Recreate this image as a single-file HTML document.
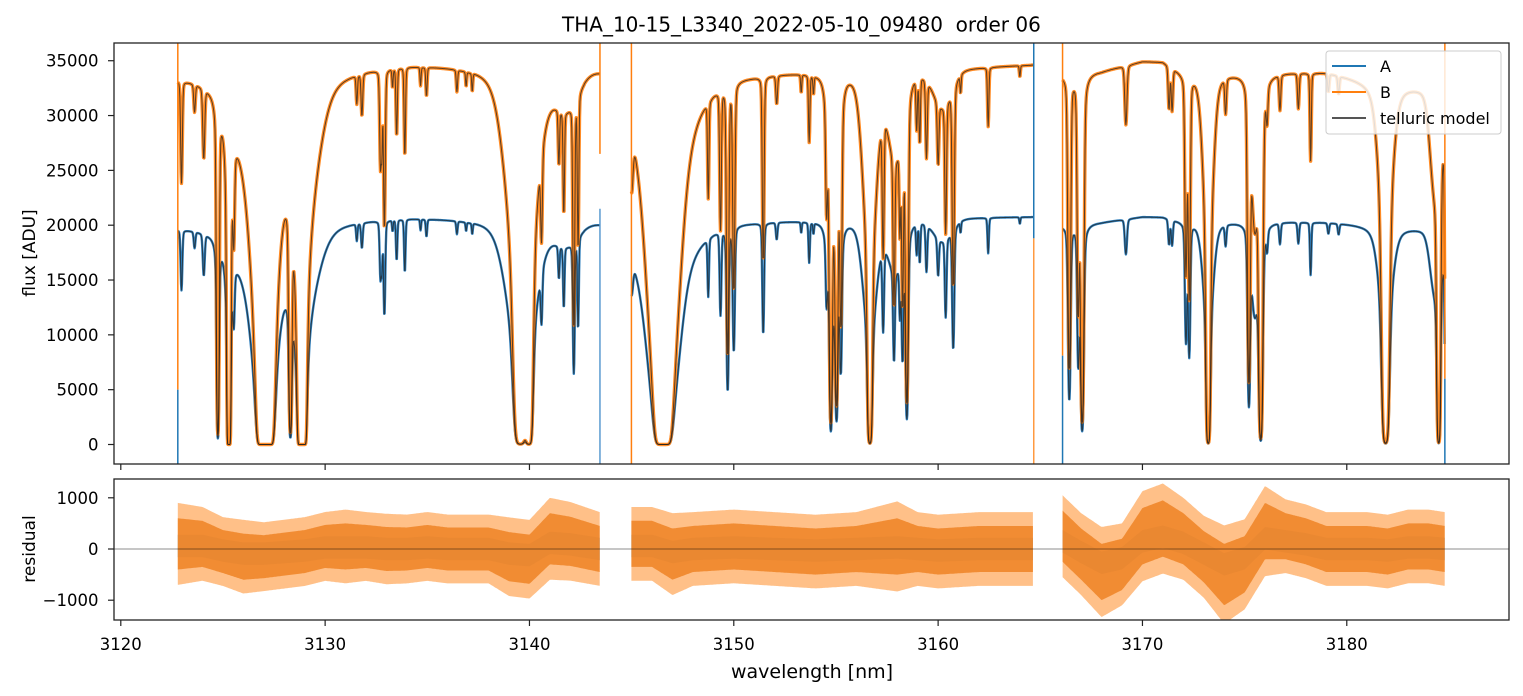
<!DOCTYPE html>
<html><head><meta charset="utf-8"><style>
html,body{margin:0;padding:0;background:#fff;}
svg{display:block;font-family:"DejaVu Sans","Liberation Sans",sans-serif;}
</style></head><body>
<svg id="chart" width="1523" height="696" viewBox="0 0 1523 696" xmlns="http://www.w3.org/2000/svg">
<defs>
<clipPath id="clipTop"><rect x="114" y="43" width="1395" height="421"/></clipPath>
<clipPath id="clipBot"><rect x="114" y="479" width="1395" height="141"/></clipPath>
</defs>
<rect width="1523" height="696" fill="#fff"/>
<text x="562" y="31.5" font-size="20" fill="#000" xml:space="preserve">THA_10-15_L3340_2022-05-10_09480  order 06</text>
<g id="topMarks" clip-path="url(#clipTop)"></g>
<g id="botMarks" clip-path="url(#clipBot)"></g>
<rect x="114" y="43" width="1395" height="421" fill="none" stroke="#222" stroke-width="1.3"/>
<rect x="114" y="479" width="1395" height="141" fill="none" stroke="#222" stroke-width="1.3"/>
<g id="axes"></g>
<text transform="translate(35,253) rotate(-90)" text-anchor="middle" font-size="17" fill="#000">flux [ADU]</text>
<text transform="translate(35,549) rotate(-90)" text-anchor="middle" font-size="17" fill="#000">residual</text>
<text x="812" y="678" text-anchor="middle" font-size="19" fill="#000">wavelength [nm]</text>
<g>
<rect x="1326" y="51" width="175" height="83" rx="3" fill="#fff" fill-opacity="0.82" stroke="#ccc" stroke-width="1"/>
<line x1="1332" y1="66" x2="1366" y2="66" stroke="#1f77b4" stroke-width="2"/>
<text x="1380" y="72" font-size="16" fill="#000">A</text>
<line x1="1332" y1="92" x2="1366" y2="92" stroke="#ff7f0e" stroke-width="2"/>
<text x="1380" y="98" font-size="16" fill="#000">B</text>
<line x1="1332" y1="118" x2="1366" y2="118" stroke="#555" stroke-width="2"/>
<text x="1380" y="124" font-size="16" fill="#000">telluric model</text>
</g>
</svg>
<script>
// ---- data ----
const segStart = [3122.79, 3144.99, 3166.09];
const segEnd   = [3143.45, 3164.68, 3184.80];
const contNm = [
  [3122.8, 3125, 3130, 3134, 3137, 3141, 3143.45],
  [3144.99, 3150, 3155, 3160, 3164.68],
  [3166.09, 3168, 3170, 3171, 3172, 3176, 3179, 3181, 3184, 3184.8]
];
const contB = [
  [33900, 34100, 34600, 35000, 34900, 35000, 35500],
  [33400, 34000, 34300, 34300, 34700],
  [33800, 34100, 35000, 35000, 34000, 34000, 34000, 33300, 32700, 32500]
];
const contA = [
  [20000, 20200, 20700, 20900, 20800, 20800, 21000],
  [19800, 20500, 20600, 20700, 20800],
  [20000, 20300, 20800, 20800, 20400, 20400, 20300, 20100, 19800, 19700]
];
const lineCenter = [3122.97,3123.61,3124.06,3124.75,3125.29,3125.53,3125.9,3127.08,3127.0,3127.8,3128.3,3128.87,3129.1,
 3131.55,3131.8,3132.71,3132.78,3132.9,3133.3,3133.5,3133.9,3134.67,3134.96,3136.45,3136.9,3137.2,
 3139.55,3139.98,3139.6,3140.59,3141.44,3141.68,3142.17,3142.38,3141.8,
 3145.0,3146.55,3146.55,3146.6,3148.75,3149.35,3149.7,3150.0,3151.44,3152.1,3153.3,3153.69,3153.9,3154.54,3154.75,3155.03,3155.24,3154.9,
 3156.66,3156.66,3157.31,3157.84,3158.13,3158.26,3158.47,3157.9,3158.95,3159.1,3159.43,3160.0,3160.37,3160.74,3160.2,3161.1,3162.45,3164.0,
 3166.42,3166.86,3167.05,3169.19,3171.3,3171.45,3172.13,3172.29,3173.22,3173.22,3174.07,3175.21,3175.79,3175.5,3176.1,3176.73,3177.63,3178.23,3179.1,3179.6,3181.9,3181.9,3184.5,3184.88,3184.3];
const lineDepth = [0.33,0.08,0.22,3.5,12,0.35,0.05,25,0.9,0,3,25,0.25,
 0.08,0.12,0.3,0.2,0.55,0.05,0.2,0.27,0.05,0.08,0.06,0.04,0.05,
 6,6,0.7,0.35,0.18,0.37,1.05,0.58,0.1,
 0.2,10,2.0,0.15,0.33,0.5,1.4,0.85,0.7,0.08,0.05,0.2,0.05,0.35,2.5,1.9,1.0,0.4,
 5,0.6,0.55,0.74,0.35,0.82,2.1,0.25,0.15,0.2,0.24,0.2,0.48,0.82,0.1,0.05,0.17,0.03,
 1.6,1.0,2.8,0.17,0.12,0.12,0.77,0.92,5,0.5,0.1,1.7,4,0.5,0.1,0.1,0.1,0.27,0.05,0.05,5,0.4,5,5,0.3];
const lineWidth = [0.03,0.03,0.035,0.06,0.07,0.03,0.5,0.26,0.6,1.2,0.04,0.14,0.8,
 0.025,0.03,0.03,0.02,0.03,0.02,0.025,0.025,0.02,0.025,0.025,0.02,0.02,
 0.25,0.15,0.8,0.03,0.025,0.025,0.03,0.025,0.8,
 0.05,0.3,0.7,1.5,0.025,0.03,0.035,0.035,0.03,0.03,0.02,0.025,0.02,0.03,0.04,0.04,0.035,0.3,
 0.1,0.4,0.03,0.03,0.025,0.03,0.04,0.5,0.025,0.025,0.03,0.03,0.03,0.035,0.6,0.02,0.025,0.02,
 0.04,0.035,0.045,0.04,0.03,0.03,0.035,0.035,0.09,0.3,0.03,0.04,0.05,0.2,0.03,0.03,0.03,0.025,0.03,0.03,0.15,0.4,0.08,0.06,0.3];
const resNm = [
  [3122.8,3124,3125,3126,3127,3128,3129,3130,3131,3132,3133,3134,3135,3136,3137,3138,3139,3140,3141,3142,3143.45],
  [3144.99,3146,3147,3148,3150,3152,3154,3156,3158,3159,3160,3162,3164.68],
  [3166.09,3167,3168,3169,3170,3171,3172,3173,3174,3175,3176,3177,3178,3179,3180,3181,3182,3183,3184,3184.8]
];
const resMean = [
  [100,100,-50,-150,-150,-100,-50,50,50,50,0,0,50,0,0,0,-150,-200,200,150,0],
  [100,100,-100,0,50,0,-50,0,50,0,-50,0,0],
  [250,-100,-450,-300,250,400,200,-150,-500,-300,350,250,150,0,0,0,-50,50,50,0]
];
const resAmp = [
  [500,450,420,450,420,420,420,420,450,420,430,420,420,420,420,420,480,480,500,480,450],
  [450,450,500,450,450,450,450,450,550,450,450,450,450],
  [500,500,550,500,550,550,500,500,600,550,550,450,450,450,450,450,450,450,450,450]
];
const xTicks = [3120,3130,3140,3150,3160,3170,3180];
const yTicksTop = [0,5000,10000,15000,20000,25000,30000,35000];
const yTicksBot = [-1000,0,1000];

// ---- axes ----
const NS="http://www.w3.org/2000/svg";
const X = nm => 120.8 + (nm-3120)*20.433;
const YT = v => 444.5 - v*0.010965;
const YB = v => 549 - v*0.0512;
function mk(tag, attrs, parent){const e=document.createElementNS(NS,tag);for(const k in attrs)e.setAttribute(k,attrs[k]);parent.appendChild(e);return e;}
function interp(xs, ys, x){ if(x<=xs[0])return ys[0]; for(let i=1;i<xs.length;i++){ if(x<=xs[i]){const t=(x-xs[i-1])/(xs[i]-xs[i-1]);return ys[i-1]+t*(ys[i]-ys[i-1]);}} return ys[ys.length-1];}
const LOR = 0.15;
function trans(l){
  let s=0;
  for(let i=0;i<lineCenter.length;i++){
    let w=lineWidth[i]||0.03; if(w<0.06) w*=1.8;
    const dp=lineDepth[i]||0;
    const d=(l-lineCenter[i])/w;
    if(d>-60&&d<60) s+=dp*((1-LOR)*Math.exp(-d*d)+LOR/(1+d*d));
  }
  return Math.exp(-s);
}

const topG=document.getElementById('topMarks'), botG=document.getElementById('botMarks'), axG=document.getElementById('axes');

// residual bands
for(let s=0;s<3;s++){
  const xs=resNm[s];
  let upO='',loO='',upI='',loI='',upA='',loA='';
  for(let l=segStart[s]; l<=segEnd[s]+1e-9; l+=0.05){
    const m=interp(xs,resMean[s],l), a=interp(xs,resAmp[s],l);
    upO+=`${X(l).toFixed(1)},${YB(m+a*1.6).toFixed(1)} `; loO=`${X(l).toFixed(1)},${YB(m-a*1.6).toFixed(1)} `+loO;
    upI+=`${X(l).toFixed(1)},${YB(m+a).toFixed(1)} `; loI=`${X(l).toFixed(1)},${YB(m-a).toFixed(1)} `+loI;
    upA+=`${X(l).toFixed(1)},${YB(m*0.6+220).toFixed(1)} `; loA=`${X(l).toFixed(1)},${YB(m*0.6-220).toFixed(1)} `+loA;
  }
  const pa=mk('polygon',{points:upA+loA,fill:'#1f77b4','fill-opacity':0.7},botG);
  
  
  const po=mk('polygon',{points:upO+loO,fill:'#ff8c26','fill-opacity':0.55},botG);
  
  
  const pi=mk('polygon',{points:upI+loI,fill:'#f0862a','fill-opacity':0.9},botG);
  
  
}
const zl=mk('line',{x1:114,x2:1509,y1:YB(0),y2:YB(0),stroke:'#000','stroke-width':0.8,'stroke-opacity':0.6},botG);



// spectra
const series=[];
for(let s=0;s<3;s++){
  let pB='',pA='';
  let first=true;
  for(let l=segStart[s]; l<=segEnd[s]+1e-9; l+=0.02){
    const t=trans(l);
    const b=interp(contNm[s],contB[s],l)*t, a=interp(contNm[s],contA[s],l)*t;
    pB+=(first?'M':'L')+X(l).toFixed(2)+','+YT(b).toFixed(2);
    pA+=(first?'M':'L')+X(l).toFixed(2)+','+YT(a).toFixed(2);
    first=false;
  }
  series.push([pA,pB]);
}
for(let s=0;s<3;s++){
  const a=mk('path',{d:series[s][0],fill:'none',stroke:'#2e7fbd','stroke-width':2.4,'stroke-linejoin':'round'},topG);
  
  
  const b=mk('path',{d:series[s][1],fill:'none',stroke:'#ff8c26','stroke-width':3.4,'stroke-linejoin':'round'},topG);
  
  
}
for(let s=0;s<3;s++){
  for(let k=0;k<2;k++){
    const m=mk('path',{d:series[s][k],fill:'none',stroke:'#222','stroke-width':1.0,'stroke-opacity':0.75},topG);
    
    
  }
}
// edge spikes at segment borders
const spikeNm=[3122.79,3122.79,3143.45,3143.45,3144.99,3164.68,3164.68,3166.09,3166.09,3184.8,3184.8];
const spikeHi=[40000,5000,40000,21500,40000,40000,18800,40000,8100,40000,6000];
const spikeLo=[5000,-3000,26500,-3000,-3000,18800,-3000,8100,-3000,6000,-3000];
const spikeCol=['#ff7f0e','#1f77b4','#ff7f0e','#5b9bd0','#ff7f0e','#1f77b4','#ff9a40','#ff7f0e','#1f77b4','#ff7f0e','#1f77b4'];
for(let i=0;i<spikeNm.length;i++){
  const e=mk('line',{x1:X(spikeNm[i]),x2:X(spikeNm[i]),y1:YT(spikeHi[i]),y2:YT(spikeLo[i]),stroke:spikeCol[i],'stroke-width':1.5},topG);
  
  
}

// ticks
xTicks.forEach(v=>{
  const x=X(v);
  const t1=mk('line',{x1:x,x2:x,y1:464,y2:470,stroke:'#222','stroke-width':1.2},axG);
  
  
  const t2=mk('line',{x1:x,x2:x,y1:620,y2:626,stroke:'#222','stroke-width':1.2},axG);
  
  
  const tl=mk('text',{x:x,y:650,'text-anchor':'middle','font-size':16.5,fill:'#000'},axG);
  tl.textContent=v;
  
  
});
yTicksTop.forEach(v=>{
  const y=YT(v);
  const t=mk('line',{x1:108,x2:114,y1:y,y2:y,stroke:'#222','stroke-width':1.2},axG);
  
  
  const tl=mk('text',{x:98.5,y:y+6,'text-anchor':'end','font-size':16.5,fill:'#000'},axG);
  tl.textContent=v;
  
  
});
yTicksBot.forEach(v=>{
  const y=YB(v);
  const t=mk('line',{x1:108,x2:114,y1:y,y2:y,stroke:'#222','stroke-width':1.2},axG);
  
  
  const tl=mk('text',{x:98.5,y:y+6,'text-anchor':'end','font-size':16.5,fill:'#000'},axG);
  tl.textContent=v<0?'\u2212'+Math.abs(v):String(v);
  
  
});
</script>
</body></html>
